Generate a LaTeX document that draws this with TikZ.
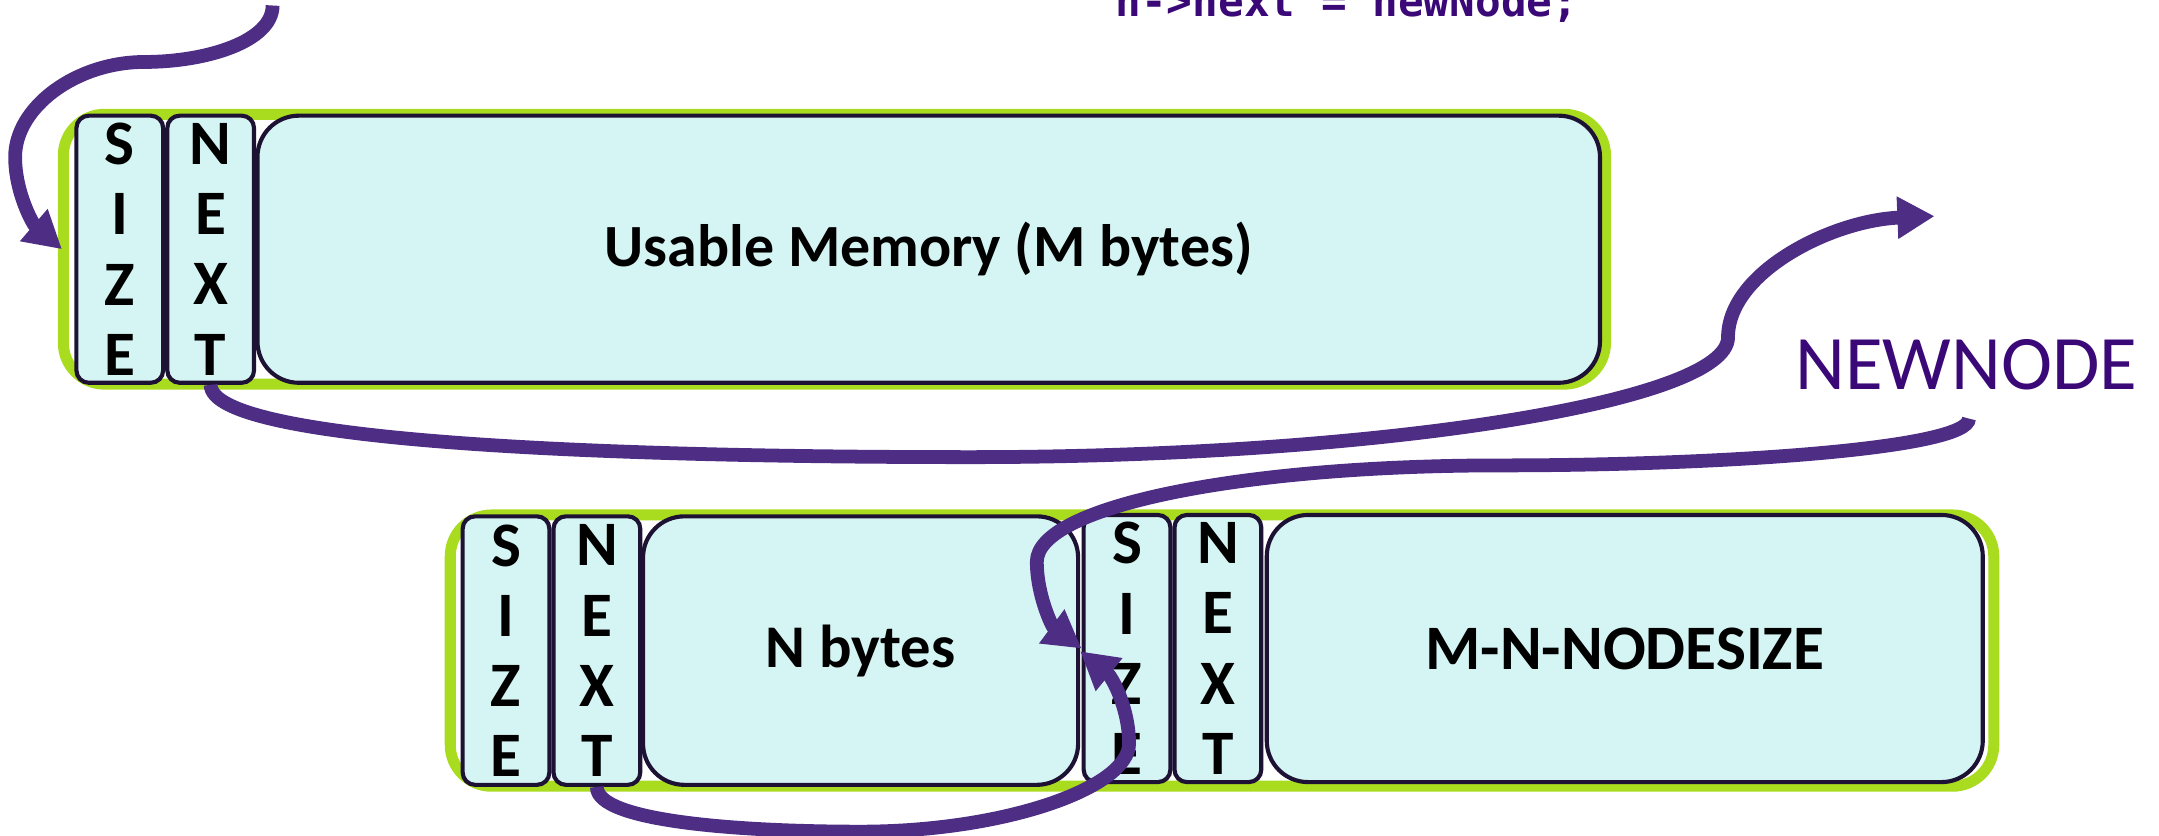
\documentclass[tikz,border=0pt]{standalone}
\usepackage{fontspec}
\setmainfont{Carlito}
\newfontfamily\codefont{DejaVu Sans Mono}
\usetikzlibrary{arrows.meta}
\definecolor{grn}{HTML}{A9DB1F}
\definecolor{cyanfill}{HTML}{D5F5F4}
\definecolor{navy}{HTML}{1D1233}
\definecolor{purp}{HTML}{4E2D84}
\definecolor{ptext}{HTML}{3B0877}
\tikzset{
  frame/.style={draw=grn, line width=8pt, fill=white, rounded corners=30pt, inner sep=0pt},
  cell/.style={draw=navy, line width=3pt, fill=cyanfill, rounded corners=9pt, inner sep=0pt,
    minimum width=63pt, align=center, font=\fontsize{46}{51}\selectfont\bfseries},
  bigcell/.style={draw=navy, line width=3pt, fill=cyanfill, rounded corners=30pt, inner sep=0pt,
    font=\fontsize{43.5}{43.5}\selectfont\bfseries},
  conn/.style={draw=purp, line width=10pt, -{Triangle[length=27pt,width=29pt]}},
}
\begin{document}
\begin{tikzpicture}[x=1pt,y=-1pt]
\useasboundingbox (0,0) rectangle (1568,607);
% top block
\node[frame, minimum width=1120pt, minimum height=196pt] (tframe) at (606,181) {};
\node[cell, minimum height=194pt] (tsize) at (87,181) {S\\I\\Z\\E};
\node[cell, minimum height=194pt] (tnext) at (153,181) {N\\E\\X\\T};
\node[bigcell, minimum width=975pt, minimum height=194pt] (tuse) at (674.5,181) {Usable Memory (M bytes)};
% bottom block
\node[frame, minimum width=1121pt, minimum height=197pt] (bframe) at (887.5,472.5) {};
\node[cell, minimum height=195pt] (bsize1) at (367.5,472.5) {S\\I\\Z\\E};
\node[cell, minimum height=195pt] (bnext1) at (433.5,472.5) {N\\E\\X\\T};
\node[bigcell, minimum width=316pt, minimum height=195pt, font=\fontsize{44}{44}\selectfont\bfseries] (bnb) at (625,472.5) {N bytes};
\node[cell, minimum height=194pt] (bsize2) at (818.5,471) {S\\I\\Z\\E};
\node[cell, minimum height=194pt] (bnext2) at (884.5,471) {N\\E\\X\\T};
\node[bigcell, minimum width=520pt, minimum height=194pt, font=\fontsize{46}{46}\selectfont\bfseries] (bmn) at (1180,471) {M-N-NODESIZE};
% texts
\node[anchor=base west, inner sep=0pt, text=ptext, font=\codefont\bfseries\fontsize{31}{31}\selectfont] (code) at (810,12) {n->next = newNode;};
\node[text=ptext, inner sep=0pt, font=\fontsize{56}{56}\selectfont] (newnode) at (1428,265) {NEWNODE};
% free ends
\coordinate (a1s) at (198,4);
\coordinate (a2e) at (1405,157);
\coordinate (a3s) at (1430,304);
% connectors
\draw[conn] (a1s) .. controls (198,30) and (150,45) .. (105,45)
  .. controls (55,45) and (11,78) .. (11,114)
  .. controls (11,140) and (24,163) .. ([xshift=3pt]tframe.west);
\draw[conn] (tnext.south) .. controls (153,322) and (450,332) .. (705,332)
  .. controls (1000,332) and (1255,292) .. (1255,245)
  .. controls (1255,198) and (1330,160) .. (a2e);
\draw[conn] (a3s) .. controls (1430,326) and (1250,338) .. (1090,338)
  .. controls (900,338) and (753,368) .. (753,408)
  .. controls (753,432) and (764,455) .. (bsize2.west);
\draw[conn] (bnext1.south) .. controls (433,597) and (540,604) .. (625,604)
  .. controls (730,604) and (820,572) .. (820,540)
  .. controls (820,515) and (808,492) .. ([xshift=-1pt,yshift=-2pt]bsize2.west);
\end{tikzpicture}
\end{document}
